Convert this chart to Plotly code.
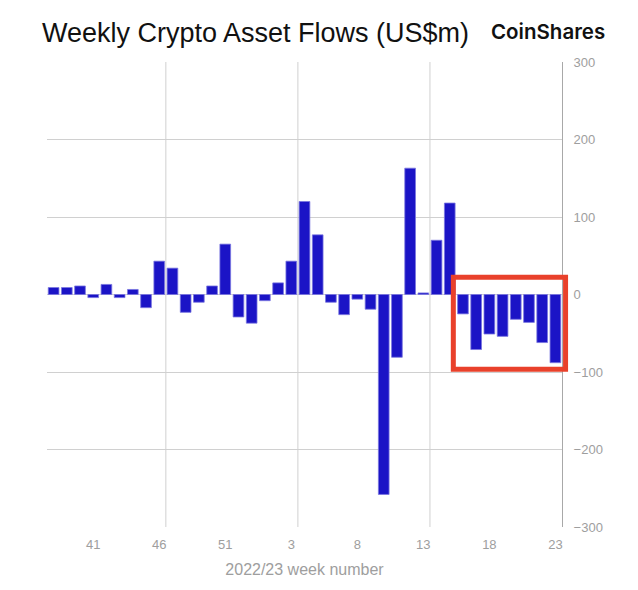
import plotly.graph_objects as go

# ---- data ----
weeks = list(range(38, 53)) + [53] + list(range(1, 24))
week_labels = [str(w) for w in weeks]
flows = [9, 9, 11, -4, 13, -4, 6.5, -17, 43, 34, -23, -10, 11, 65, -29, -37, -8, 15, 43,
         120, 77, -10, -26, -6, -19, -258, -81, 163, 2, 70, 118, -25, -71, -51, -54, -32,
         -36, -62, -88]
shown_ticks = ["41", "46", "51", "3", "8", "13", "18", "23"]
y_ticks = [-300, -200, -100, 0, 100, 200, 300]
Y_MIN, Y_MAX = -300, 300

GRAY_TXT = "#9e9e9e"
GRID = "#d0d0d0"

# the page adds an 8px body margin, so the figure is drawn 8px smaller
W, H = 630, 582
L, R, T, B = 39, 76, 54, 63

fig = go.Figure()
fig.add_trace(go.Bar(
    x=week_labels, y=flows,
    marker=dict(color="#1b14c6", line=dict(color="#7a76e0", width=0.8)),
    hoverinfo="x+y",
))

n = len(week_labels)


def px_x(i):
    return (i + 0.5) / n


def px_y(v):
    return (v - Y_MIN) / (Y_MAX - Y_MIN)


shapes = []
for k in range(1, 4):
    xv = (n - 0.5) - 10 * k
    shapes.append(dict(type="line", xref="x", yref="paper", x0=xv, x1=xv, y0=0, y1=1,
                       line=dict(color=GRID, width=1), layer="below"))
# highlight box around the last 8 weeks (paper refs so it is not clipped at the plot edge)
shapes.append(dict(type="rect", xref="paper", yref="paper",
                   x0=px_x(n - 8.73), x1=px_x(n - 0.23),
                   y0=px_y(-96.3), y1=px_y(22.4), line=dict(color="#e9412b", width=5),
                   fillcolor="rgba(0,0,0,0)", layer="above"))

plot_w = W - L - R
plot_h = H - T - B

fig.update_layout(
    width=W, height=H,
    margin=dict(l=L, r=R, t=T, b=B),
    paper_bgcolor="white", plot_bgcolor="white",
    bargap=0.19,
    showlegend=False,
    font=dict(family="Liberation Sans, Arial, sans-serif", color=GRAY_TXT),
    title=dict(text="Weekly Crypto Asset Flows (US$m)", xref="container", yref="container",
               x=34 / W, xanchor="left", y=1 - 25 / H, yanchor="middle",
               font=dict(size=27, color="#111111", family="Liberation Sans, Arial, sans-serif")),
    shapes=shapes,
    annotations=[dict(text="CoinShares", xref="paper", yref="paper",
                      x=(599 - L) / plot_w, y=(H - B - 23) / plot_h, xanchor="right",
                      yanchor="middle", showarrow=False,
                      font=dict(size=20.5, color="#111111", family="Inter, sans-serif",
                                weight=600))],
    xaxis=dict(type="category", range=[-0.5, n - 0.5], tickmode="array",
               tickvals=shown_ticks, ticktext=shown_ticks, showgrid=False,
               showline=False, zeroline=False, ticks="", tickfont=dict(size=13, color=GRAY_TXT),
               ticklabelstandoff=8,
               title=dict(text="2022/23 week number", font=dict(size=16, color=GRAY_TXT),
                          standoff=12)),
    yaxis=dict(side="right", range=[Y_MIN, Y_MAX], tickvals=y_ticks, showgrid=True,
               gridcolor=GRID, gridwidth=1, zeroline=True, zerolinecolor=GRID, zerolinewidth=1,
               showline=True, linecolor="#a8a8a8", linewidth=1, ticks="",
               tickfont=dict(size=13, color=GRAY_TXT), ticklabelstandoff=8),
)

fig.write_html("out.html")
